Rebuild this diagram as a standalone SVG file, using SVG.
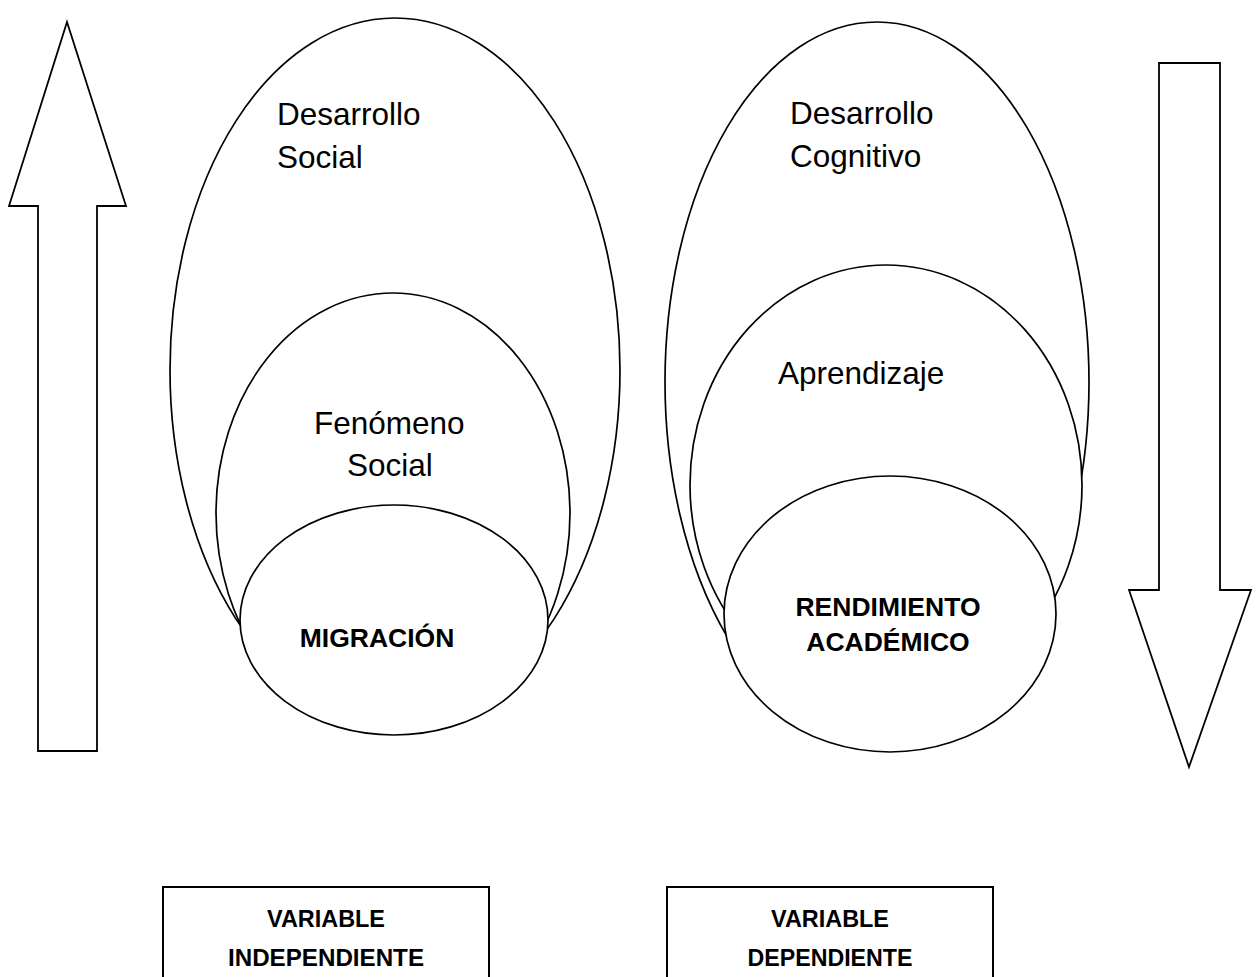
<svg xmlns="http://www.w3.org/2000/svg" width="1259" height="977" viewBox="0 0 1259 977">
<style>
.shape{fill:#fff;stroke:#000;stroke-width:1.7}
.arrow{fill:#fff;stroke:#000;stroke-width:1.8}
.box{fill:#fff;stroke:#000;stroke-width:2}
.lbl{font-family:"Liberation Sans",Arial,sans-serif;font-size:31.5px;fill:#000}
.bold{font-family:"Liberation Sans",Arial,sans-serif;font-size:26.5px;font-weight:bold;fill:#000;text-anchor:middle}
.var{font-family:"Liberation Sans Narrow","Liberation Sans",Arial,sans-serif;font-size:24px;font-weight:bold;fill:#000;text-anchor:middle}
</style>
<rect width="1259" height="977" fill="#fff"/>
<g id="connectors">
<polygon id="arrow-up" class="arrow" points="67,22 126,206 97,206 97,751 38,751 38,206 9,206"/>
<polygon id="arrow-down" class="arrow" points="1159,63 1220,63 1220,590 1251,590 1189,767 1129,590 1159,590"/>
</g>
<g id="desarrollo-social">
<ellipse class="shape" cx="395" cy="370" rx="225" ry="352"/>
<text class="lbl" x="277" y="125">Desarrollo</text>
<text class="lbl" x="277" y="168">Social</text>
</g>
<g id="fenomeno-social">
<ellipse class="shape" cx="393" cy="513" rx="177" ry="220"/>
<text class="lbl" x="314" y="434">Fenómeno</text>
<text class="lbl" x="347" y="476">Social</text>
</g>
<g id="migracion">
<ellipse class="shape" cx="394" cy="620" rx="154" ry="115"/>
<text class="bold" x="377" y="647">MIGRACIÓN</text>
</g>
<g id="desarrollo-cognitivo">
<ellipse class="shape" cx="877" cy="382" rx="212" ry="360"/>
<text class="lbl" x="790" y="124">Desarrollo</text>
<text class="lbl" x="790" y="167">Cognitivo</text>
</g>
<g id="aprendizaje">
<ellipse class="shape" cx="886" cy="485" rx="196" ry="220"/>
<text class="lbl" x="778" y="384">Aprendizaje</text>
</g>
<g id="rendimiento">
<ellipse class="shape" cx="890" cy="614" rx="166" ry="138"/>
<text class="bold" x="888" y="616">RENDIMIENTO</text>
<text class="bold" x="888" y="651">ACADÉMICO</text>
</g>
<g id="variable-independiente">
<rect class="box" x="163" y="887" width="326" height="100"/>
<text class="var" x="326" y="927" textLength="118" lengthAdjust="spacingAndGlyphs">VARIABLE</text>
<text class="var" x="326" y="966" textLength="196" lengthAdjust="spacingAndGlyphs">INDEPENDIENTE</text>
</g>
<g id="variable-dependiente">
<rect class="box" x="667" y="887" width="326" height="100"/>
<text class="var" x="830" y="927" textLength="118" lengthAdjust="spacingAndGlyphs">VARIABLE</text>
<text class="var" x="830" y="966" textLength="165" lengthAdjust="spacingAndGlyphs">DEPENDIENTE</text>
</g>
</svg>
